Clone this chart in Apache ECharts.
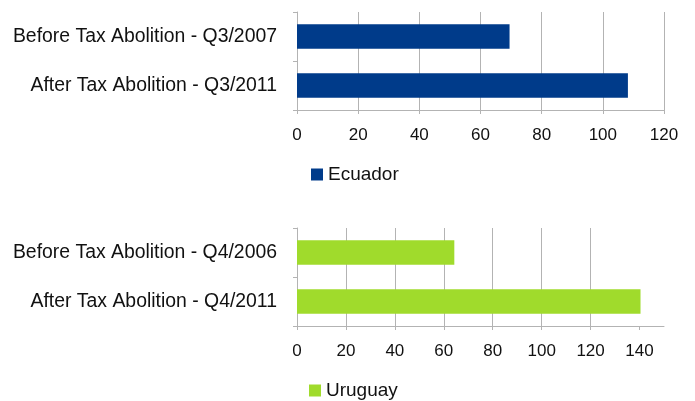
<!DOCTYPE html>
<html>
<head>
<meta charset="utf-8">
<script src="https://cdn.jsdelivr.net/npm/echarts@6/dist/echarts.min.js"></script>
<style>
  html, body { margin: 0; padding: 0; background: #fff; }
  #chart { width: 695px; height: 401px; }
</style>
</head>
<body>
<div id="chart"></div>
<script>
// data
var ecuadorCats = ['Before Tax Abolition - Q3/2007', 'After Tax Abolition - Q3/2011'];
var ecuadorVals = [69.5, 108.2];
var uruguayCats = ['Before Tax Abolition - Q4/2006', 'After Tax Abolition - Q4/2011'];
var uruguayVals = [64.3, 140.4];
var ecuadorTicks = [0, 20, 40, 60, 80, 100, 120];
var uruguayTicks = [0, 20, 40, 60, 80, 100, 120, 140];

var font = 'Liberation Sans, Arial, sans-serif';
var gray = '#b3b3b3';

function catAxis(idx, cats) {
  return {
    type: 'category', gridIndex: idx, data: cats, inverse: true,
    axisLine: { lineStyle: { color: gray } },
    axisTick: { show: true, length: 4, lineStyle: { color: gray } },
    axisLabel: { color: '#111', fontSize: 19.4, fontFamily: font, margin: 20 }
  };
}

function valAxis(idx, max, ticks) {
  return {
    type: 'value', gridIndex: idx, min: 0, max: max, interval: 20,
    axisLine: { show: true, lineStyle: { color: gray } },
    axisTick: { show: true, length: 4, lineStyle: { color: gray }, customValues: ticks },
    axisLabel: { color: '#111', fontSize: 17, fontFamily: font, margin: 17, customValues: ticks },
    splitLine: { show: true, showMaxLine: max === ticks[ticks.length - 1], lineStyle: { color: gray } }
  };
}

var chart = echarts.init(document.getElementById('chart'));
chart.setOption({
  animation: false,
  grid: [
    { left: 297, top: 12, width: 367, height: 98 },
    { left: 297, top: 228, width: 367, height: 98 }
  ],
  yAxis: [catAxis(0, ecuadorCats), catAxis(1, uruguayCats)],
  xAxis: [valAxis(0, 120, ecuadorTicks), valAxis(1, 150, uruguayTicks)],
  legend: [
    { data: ['Ecuador'], left: 306, top: 160, icon: 'rect', itemWidth: 12, itemHeight: 12,
      textStyle: { fontSize: 19, fontFamily: font, color: '#111' } },
    { data: ['Uruguay'], left: 304, top: 376, icon: 'rect', itemWidth: 12, itemHeight: 12,
      textStyle: { fontSize: 19, fontFamily: font, color: '#111' } }
  ],
  series: [
    { name: 'Ecuador', type: 'bar', xAxisIndex: 0, yAxisIndex: 0, data: ecuadorVals,
      barCategoryGap: '50%', itemStyle: { color: '#003b8a' } },
    { name: 'Uruguay', type: 'bar', xAxisIndex: 1, yAxisIndex: 1, data: uruguayVals,
      barCategoryGap: '50%', itemStyle: { color: '#a0db2c' } }
  ]
});
</script>
</body>
</html>
